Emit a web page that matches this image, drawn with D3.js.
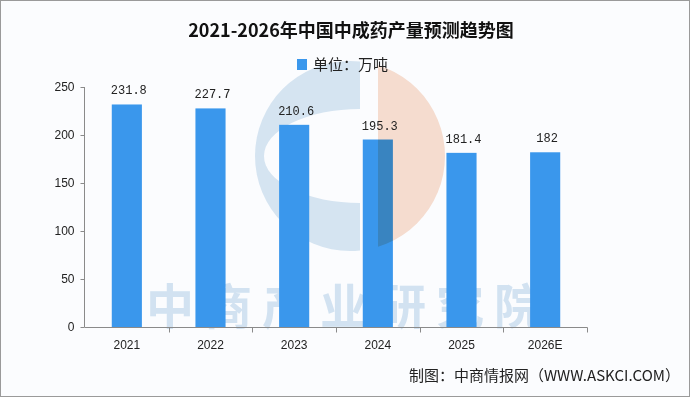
<!DOCTYPE html>
<html>
<head>
<meta charset="utf-8">
<script src="https://cdn.jsdelivr.net/npm/d3@7"></script>
<style>
  body { margin: 0; background: #fff; }
  svg text { font-family: "Liberation Sans", Arial, sans-serif; }
</style>
</head>
<body>
<div id="chart"></div>
<script>
// data
var years = ["2021", "2022", "2023", "2024", "2025", "2026E"];
var output = [231.8, 227.7, 210.6, 195.3, 181.4, 182];
var yTicks = [0, 50, 100, 150, 200, 250];
var titleText = "2021-2026年中国中成药产量预测趋势图";
var legendText = "单位：万吨";
var sourceText = "制图：中商情报网（WWW.ASKCI.COM）";
var watermarkText = "中商产业研究院";

var W = 699, H = 398;
var barColor = "#3a97ec";
var bg = "#fbfcfe";

var svg = d3.select("#chart").append("svg")
    .attr("width", W)
    .attr("height", H);

// card background + border
svg.append("rect")
    .attr("x", 0.5).attr("y", 0.5)
    .attr("width", 689).attr("height", 396)
    .attr("fill", bg)
    .attr("stroke", "#9a9a9a")
    .attr("stroke-width", 1);

// scales
var x = d3.scaleBand().domain(years).range([85, 587])
    .paddingInner(0.64).paddingOuter(0.32);
var y = d3.scaleLinear().domain([0, 250]).range([327, 87]);

// watermark logo: one circle split in a blue "C" and a salmon half
var cx = 350, cy = 156, r = 95;
var defs = svg.append("defs");
defs.append("clipPath").attr("id", "leftPart")
    .append("rect").attr("x", 0).attr("y", 0).attr("width", 360).attr("height", H);
defs.append("clipPath").attr("id", "rightPart")
    .append("rect").attr("x", 378).attr("y", 0).attr("width", 300).attr("height", H);

var wm = svg.append("g");
var cPart = wm.append("g").attr("clip-path", "url(#leftPart)");
cPart.append("circle")
    .attr("cx", cx).attr("cy", cy).attr("r", r)
    .attr("fill", "#d5e4f1");
cPart.append("ellipse")
    .attr("cx", 360).attr("cy", cy).attr("rx", 96).attr("ry", 47)
    .attr("fill", bg);

wm.append("text")
    .attr("x", 349).attr("y", 324)
    .attr("text-anchor", "middle")
    .style("font-family", "'Noto Sans CJK SC', sans-serif")
    .style("font-weight", "bold")
    .style("font-size", "48px")
    .style("letter-spacing", "10px")
    .attr("fill", "#d2e2f1")
    .text(watermarkText);

// bars
svg.append("g").selectAll("rect")
    .data(output)
    .join("rect")
    .attr("x", function(d, i) { return x(years[i]); })
    .attr("y", function(d) { return y(d); })
    .attr("width", x.bandwidth())
    .attr("height", function(d) { return y(0) - y(d); })
    .attr("fill", barColor);

// salmon half of the logo, multiplied over the bars
svg.append("circle")
    .attr("cx", cx).attr("cy", cy).attr("r", r)
    .attr("clip-path", "url(#rightPart)")
    .attr("fill", "#f9dfd0")
    .style("mix-blend-mode", "multiply");

// value labels
svg.append("g").selectAll("text")
    .data(output)
    .join("text")
    .attr("x", function(d, i) { return x(years[i]) + x.bandwidth() / 2 + 2; })
    .attr("y", function(d) { return y(d) - 10; })
    .attr("text-anchor", "middle")
    .style("font-family", "'Liberation Mono', monospace")
    .style("font-size", "12px")
    .attr("fill", "#222")
    .text(function(d) { return d; });

// y axis
var yAxis = svg.append("g")
    .attr("transform", "translate(84.5,0)")
    .call(d3.axisLeft(y).tickValues(yTicks).tickSize(4).tickPadding(6));
yAxis.select(".domain").attr("stroke", "#8a8a8a").attr("d", "M0," + y(250) + "V" + y(0));
yAxis.selectAll(".tick line").attr("stroke", "#8a8a8a");
yAxis.selectAll(".tick text").style("font-size", "12px").attr("fill", "#222");

// x axis
var xAxis = svg.append("g")
    .attr("transform", "translate(0," + (y(0) + 0.5) + ")")
    .call(d3.axisBottom(x).tickSize(0).tickPadding(13));
xAxis.select(".domain").attr("stroke", "#8a8a8a").attr("d", "M84.5,0H587.5");
xAxis.selectAll(".tick text").style("font-size", "12px").attr("fill", "#222");
// separators between categories
xAxis.selectAll(".sep")
    .data(years)
    .join("line")
    .attr("class", "sep")
    .attr("x1", function(d) { return Math.round(x(d) + x.bandwidth() / 2 + x.step() / 2) + 0.5; })
    .attr("x2", function(d) { return Math.round(x(d) + x.bandwidth() / 2 + x.step() / 2) + 0.5; })
    .attr("y1", 0).attr("y2", 5)
    .attr("stroke", "#8a8a8a");

// title
svg.append("text")
    .attr("x", 351).attr("y", 37)
    .attr("text-anchor", "middle")
    .style("font-family", "'Noto Sans CJK SC', sans-serif")
    .style("font-weight", "bold")
    .style("font-size", "18px")
    .attr("fill", "#111")
    .text(titleText);

// legend
svg.append("rect")
    .attr("x", 297).attr("y", 59)
    .attr("width", 10).attr("height", 11)
    .attr("fill", barColor);
svg.append("text")
    .attr("x", 313).attr("y", 70)
    .style("font-family", "'Noto Sans CJK SC', sans-serif")
    .style("font-size", "15px")
    .attr("fill", "#222")
    .text(legendText);

// source
svg.append("text")
    .attr("x", 680).attr("y", 381)
    .attr("text-anchor", "end")
    .style("font-family", "'Noto Sans CJK SC', sans-serif")
    .style("font-size", "15px")
    .attr("fill", "#222")
    .text(sourceText);
</script>
</body>
</html>
